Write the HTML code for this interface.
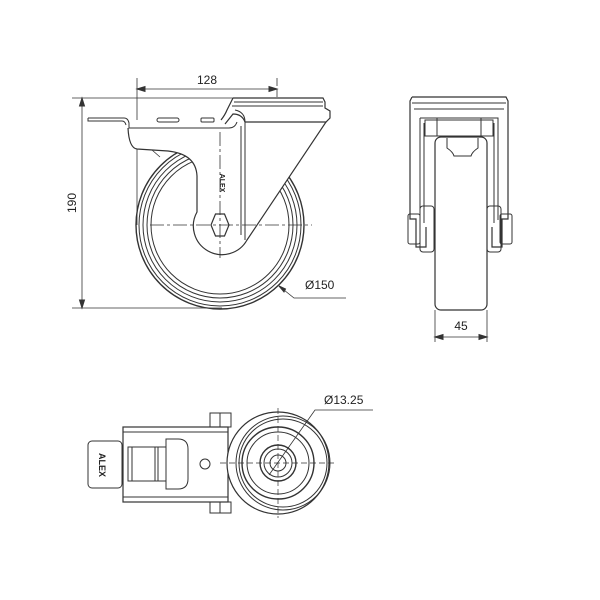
<!DOCTYPE html>
<html><head><style>html,body{margin:0;padding:0;background:#fff}svg{display:block}</style></head><body>
<svg width="600" height="600" viewBox="0 0 600 600" xmlns="http://www.w3.org/2000/svg" font-family="Liberation Sans, sans-serif">
<g fill="none" stroke="#333" stroke-width="1">
<!-- SIDE VIEW -->
<line x1="137" y1="78" x2="137" y2="225" stroke-width="0.8"/>
<line x1="277" y1="78" x2="277" y2="145" stroke-width="0.8" stroke-dasharray="8,3"/>
<line x1="137" y1="89" x2="277" y2="89" stroke-width="0.8"/>
<path d="M137,89 l8,-2.5 v5z M277,89 l-8,-2.5 v5z" fill="#333"/>
<line x1="72" y1="98" x2="235" y2="98" stroke-width="0.8"/>
<line x1="72" y1="308" x2="222" y2="308" stroke-width="0.8"/>
<line x1="82" y1="98" x2="82" y2="308" stroke-width="0.8"/>
<path d="M82,98 l-2.5,8 h5z M82,308 l-2.5,-8 h5z" fill="#333"/>
<!-- wheel -->
<circle cx="220" cy="225" r="84" stroke-width="1.4"/>
<circle cx="220" cy="225" r="81"/>
<circle cx="220" cy="225" r="77"/>
<circle cx="220" cy="225" r="73"/>
<circle cx="220" cy="225" r="69"/>
<!-- fork body covering wheel -->
<path d="M126,127 q1,21 10,22 L168,151 q28,3 29,25 L197,212 A27,27 0 0 0 247,240 L328,120 L245,120 L126,120 Z" fill="#fff" stroke="none"/>
<path d="M128,128 q1,20 9,21 L168,151 q28,3 29,25 L197,212 A27,27 0 0 0 247,240 L330,116" stroke-width="1.2"/>
<!-- plate -->
<path d="M88,118 h36 q4,0 5,5 v5 h100 q6,0 8,-6" />
<path d="M88,118 v3 h34 q3,0 4,4" />
<rect x="157" y="118" width="22" height="4" rx="2"/>
<rect x="201" y="118" width="13" height="4" rx="1"/>
<line x1="245" y1="122" x2="245" y2="240"/>
<line x1="241" y1="126" x2="241" y2="235"/>
<!-- top block -->
<path d="M233,98 h90 l2,4 v6 l5,3 v7 l-4,4 h-81 q-3,-8 -12,-8 l-8,10 M233,98 l-6,12 q-2,5 -6,10" fill="#fff" stroke-width="1.2"/>
<path d="M234,102 h89 M232,106 h91"/>
<path d="M245,122 q0,-10 -10,-12"/>
<!-- hex -->
<polygon points="211,225 215.5,214 224.5,214 229,225 224.5,236 215.5,236" fill="#fff" stroke-width="1.2"/>
<line x1="150" y1="225" x2="312" y2="225" stroke-dasharray="14,3,3,3" stroke-width="0.8"/>
<line x1="220" y1="132" x2="220" y2="258" stroke-dasharray="14,3,3,3" stroke-width="0.8"/>
<!-- leader Ø150 -->
<path d="M279,286 l15,12 h52" stroke-width="0.8"/>
<path d="M279,286 l5,6 l1.5,-3z" fill="#333"/>
<path d="M152,150 l8,7" stroke-width="0.8"/>
<!-- FRONT VIEW -->
<path d="M412,97 h94 l2,4 v118 h-6 v28 h-10 v-20 M412,97 l-2,4 v118 h6 v28 h10 v-20" fill="#fff" stroke-width="1.2"/>
<path d="M412,103 h94 M414,109 h90"/>
<path d="M420,118 h78 v102 M420,118 v102 M424,123 v100 M494,123 v100"/>
<path d="M425,120 h68 v16 h-68z M437,118 h44 v18 h-44z"/>
<rect x="435" y="137" width="52" height="173" rx="6" fill="#fff" stroke-width="1.2"/>
<path d="M447,138 v10 q6,4 7,8 h17 q1,-4 7,-8 v-10"/>
<rect x="408" y="214" width="12" height="30" rx="2"/>
<rect x="500" y="214" width="12" height="30" rx="2"/>
<rect x="420" y="206" width="14" height="46" rx="3"/>
<rect x="487" y="206" width="14" height="46" rx="3"/>
<line x1="435" y1="310" x2="435" y2="342" stroke-width="0.8"/>
<line x1="487" y1="310" x2="487" y2="342" stroke-width="0.8"/>
<line x1="435" y1="337" x2="487" y2="337" stroke-width="0.8"/>
<path d="M435,337 l8,-2.5 v5z M487,337 l-8,-2.5 v5z" fill="#333"/>
<!-- TOP VIEW -->
<rect x="123" y="427" width="105" height="75" fill="#fff" stroke-width="1.2"/>
<line x1="123" y1="432" x2="228" y2="432"/>
<line x1="123" y1="497" x2="228" y2="497"/>
<rect x="88" y="441" width="34" height="47" rx="4"/>
<path d="M166,439 h12 q10,0 10,10 v30 q0,10 -10,10 h-12z" />
<rect x="128" y="447" width="38" height="34"/>
<line x1="132" y1="447" x2="132" y2="481"/>
<line x1="155" y1="447" x2="155" y2="481"/>
<line x1="158" y1="447" x2="158" y2="481"/>
<circle cx="205" cy="464" r="5"/>
<rect x="210" y="413" width="21" height="14"/><line x1="220" y1="413" x2="220" y2="427"/>
<rect x="210" y="502" width="21" height="11"/><line x1="220" y1="502" x2="220" y2="513"/>
<circle cx="278" cy="463" r="51" fill="#fff" stroke-width="1.2"/>
<circle cx="283" cy="463" r="47"/>
<circle cx="283" cy="463" r="44"/>
<circle cx="278" cy="463" r="36" stroke-width="1.4"/>
<circle cx="278" cy="463" r="31"/>
<circle cx="278" cy="463" r="18" stroke-width="1.4"/>
<circle cx="278" cy="463" r="14"/>
<circle cx="278" cy="463" r="8"/>
<line x1="220" y1="463" x2="336" y2="463" stroke-dasharray="6,3" stroke-width="0.7"/>
<line x1="278" y1="408" x2="278" y2="518" stroke-dasharray="6,3" stroke-width="0.7"/>
<path d="M269,475 L315,410 h58" stroke-width="0.8"/>
</g>
<g fill="#222" font-size="12">
<text x="207" y="84" text-anchor="middle">128</text>
<text x="76" y="203" text-anchor="middle" transform="rotate(-90 76 203)">190</text>
<text x="305" y="289">Ø150</text>
<text x="461" y="330" text-anchor="middle">45</text>
<text x="324" y="404">Ø13.25</text>
<text x="99" y="465" font-size="9" font-weight="bold" text-anchor="middle" transform="rotate(90 99 465)">ALEX</text>
<text x="220" y="183" font-size="7" font-weight="bold" text-anchor="middle" transform="rotate(90 220 183)">ALEX</text>
</g>
</svg>
</body></html>
